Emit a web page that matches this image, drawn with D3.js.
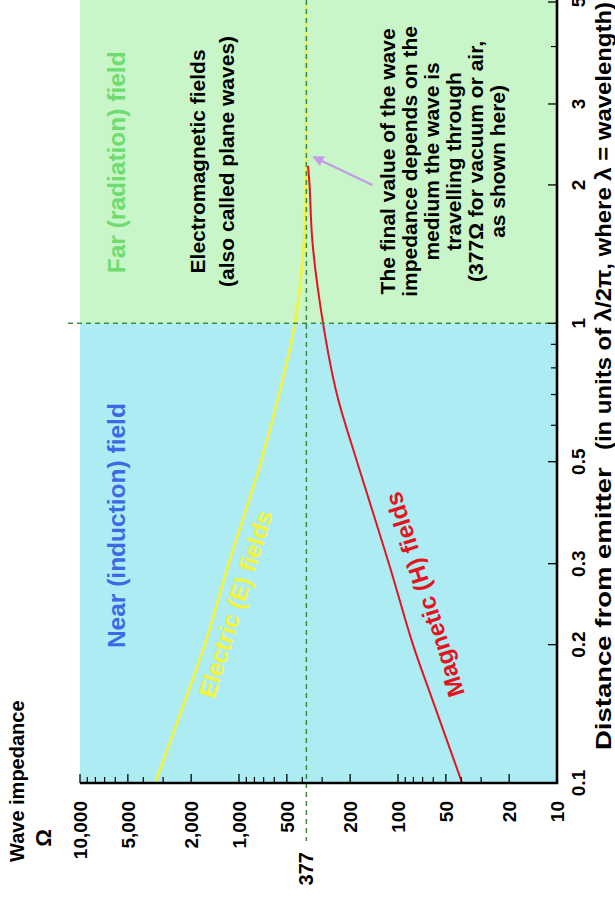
<!DOCTYPE html>
<html>
<head>
<meta charset="utf-8">
<script src="https://cdn.jsdelivr.net/npm/d3@7"></script>
<style>
  html, body { margin: 0; padding: 0; background: #ffffff; }
  svg { display: block; font-family: "Liberation Sans", Arial, Helvetica, sans-serif; font-weight: bold; }
  text { white-space: pre; }
</style>
</head>
<body>
<svg id="chart" width="615" height="899"></svg>
<script>
// Distance from the emitter, in units of λ/2π
const distances = [0.1, 0.15, 0.2, 0.3, 0.5, 0.7, 1, 1.5, 2, 3, 5];
// Wave impedance (Ω) of the electric (E) field
const electricImpedance = [3370, 2200, 1640, 1160, 727, 560, 445, 390, 380, 377, 377];
// Wave impedance (Ω) of the magnetic (H) field
const magneticDistances = [0.1, 0.15, 0.2, 0.3, 0.5, 0.7, 1, 1.5, 2, 2.2];
const magneticImpedance = [39.5, 60, 80.5, 114, 181, 242, 296, 345, 360, 368];

const freeSpaceImpedance = 377;
const fieldBoundary = 1;

const impedanceTicks = [10000, 5000, 2000, 1000, 500, 200, 100, 50, 20, 10];
const impedanceTickLabels = ["10,000", "5,000", "2,000", "1,000", "500", "200", "100", "50", "20", "10"];
const distanceTicks = [0.1, 0.2, 0.3, 0.5, 1, 2, 3, 5];
const distanceTickLabels = ["0.1", "0.2", "0.3", "0.5", "1", "2", "3", "5"];
const distanceMinorTicks = [0.6, 0.7, 0.8, 0.9, 4];

const noteLines = [
  "The final value of the wave",
  "impedance depends on the",
  "medium the wave is",
  "travelling through",
  "(377\u03A9 for vacuum or air,",
  "as shown here)"
];
const emLines = ["Electromagnetic fields", "(also called plane waves)"];

const svg = d3.select("#chart");

// The chart is laid on its side: impedance runs across, distance runs up.
const plot = { left: 80, right: 557, top: 2, bottom: 783 };
const z = d3.scaleLog().domain([10000, 10]).range([plot.left, plot.right]);
const d = d3.scaleLog().domain([0.1, 5]).range([plot.bottom, plot.top]);

const colors = {
  near: "#aeecf4",
  far: "#c8f6c8",
  electric: "#f3f33a",
  magnetic: "#e3141e",
  guide: "#3d8b3d",
  nearText: "#3a6be4",
  farText: "#6fdc6f",
  arrow: "#c49be8"
};

// Near-field and far-field regions
svg.append("rect")
  .attr("x", plot.left).attr("y", d(fieldBoundary))
  .attr("width", plot.right - plot.left).attr("height", plot.bottom - d(fieldBoundary))
  .attr("fill", colors.near);
svg.append("rect")
  .attr("x", plot.left).attr("y", 0)
  .attr("width", plot.right - plot.left).attr("height", d(fieldBoundary))
  .attr("fill", colors.far);

// Impedance curves
const eLine = d3.line()
  .x((v, i) => z(electricImpedance[i]))
  .y((v, i) => d(distances[i]))
  .curve(d3.curveCatmullRom.alpha(0.5));
const hLine = d3.line()
  .x((v, i) => z(magneticImpedance[i]))
  .y((v, i) => d(magneticDistances[i]))
  .curve(d3.curveCatmullRom.alpha(0.5));

svg.append("path").datum(distances)
  .attr("d", eLine).attr("fill", "none")
  .attr("stroke", colors.electric).attr("stroke-width", 2.6);
svg.append("path").datum(magneticDistances)
  .attr("d", hLine).attr("fill", "none")
  .attr("stroke", colors.magnetic).attr("stroke-width", 2);

// Guide lines: free-space impedance and near/far boundary
svg.append("line")
  .attr("x1", z(freeSpaceImpedance)).attr("x2", z(freeSpaceImpedance))
  .attr("y1", 0).attr("y2", plot.bottom + 58)
  .attr("stroke", colors.guide).attr("stroke-width", 1.5)
  .attr("stroke-dasharray", "5,4");
svg.append("line")
  .attr("x1", plot.left - 12).attr("x2", plot.right)
  .attr("y1", d(fieldBoundary)).attr("y2", d(fieldBoundary))
  .attr("stroke", colors.guide).attr("stroke-width", 1.5)
  .attr("stroke-dasharray", "5,4");

// Axes
const axes = svg.append("g").attr("stroke", "#000");
axes.append("line")
  .attr("x1", plot.left).attr("x2", plot.right + 1)
  .attr("y1", plot.bottom).attr("y2", plot.bottom)
  .attr("stroke-width", 2.6);
axes.append("line")
  .attr("x1", plot.right).attr("x2", plot.right)
  .attr("y1", 0).attr("y2", plot.bottom + 1)
  .attr("stroke-width", 2.6);

const impedanceMinor = z.ticks(30).filter(v => !impedanceTicks.includes(v));
axes.selectAll(".zmajor").data(impedanceTicks).join("line")
  .attr("x1", v => z(v)).attr("x2", v => z(v))
  .attr("y1", plot.bottom).attr("y2", plot.bottom - 9)
  .attr("stroke-width", 1.3);
axes.selectAll(".zminor").data(impedanceMinor).join("line")
  .attr("x1", v => z(v)).attr("x2", v => z(v))
  .attr("y1", plot.bottom).attr("y2", plot.bottom - 6)
  .attr("stroke-width", 1.2);
axes.selectAll(".dmajor").data(distanceTicks).join("line")
  .attr("x1", plot.right).attr("x2", plot.right - 9)
  .attr("y1", v => d(v)).attr("y2", v => d(v))
  .attr("stroke-width", 1.3);
axes.selectAll(".dminor").data(distanceMinorTicks).join("line")
  .attr("x1", plot.right).attr("x2", plot.right - 6)
  .attr("y1", v => d(v)).attr("y2", v => d(v))
  .attr("stroke-width", 1.2);

// Sideways text helper
function sideText(x, y, str, opts = {}) {
  const t = svg.append("text")
    .attr("transform", `translate(${x},${y}) rotate(${opts.angle ?? -90})`)
    .attr("text-anchor", opts.anchor || "middle")
    .attr("dy", opts.dy ?? "0.35em")
    .attr("font-size", opts.size || 19)
    .attr("fill", opts.fill || "#000")
    .text(str);
  if (opts.length) t.attr("textLength", opts.length).attr("lengthAdjust", "spacingAndGlyphs");
  return t;
}

// Tick labels
impedanceTicks.forEach((v, i) => sideText(z(v), plot.bottom + 18, impedanceTickLabels[i], { anchor: "end" }));
sideText(z(freeSpaceImpedance), plot.bottom + 69, String(freeSpaceImpedance), { anchor: "end", size: 20 });
distanceTicks.forEach((v, i) => sideText(plot.right + 21, d(v), distanceTickLabels[i]));

// Distance axis title, in two runs
sideText(603, plot.bottom - 33, "Distance from emitter  ", { anchor: "start", size: 21.5, length: 298 });
sideText(603, plot.bottom - 333, "(in units of \u03BB/2\u03C0, where \u03BB = wavelength)",
  { anchor: "start", size: 21.5, length: plot.bottom - 335 });

// Impedance axis title
sideText(17, plot.bottom + 79, "Wave impedance", { anchor: "start", size: 20 });
sideText(43, plot.bottom + 55, "\u03A9", { size: 22 });

// Region names
sideText(116, d(2.24), "Far (radiation) field", { size: 24.5, fill: colors.farText });
sideText(116, d(0.363), "Near (induction) field", { size: 24.5, fill: colors.nearText });

// Curve names, set along their curves
const iE1 = distances.indexOf(0.15), iE2 = distances.indexOf(0.5);
const angleE = Math.atan2(d(0.5) - d(0.15), z(electricImpedance[iE2]) - z(electricImpedance[iE1])) * 180 / Math.PI;
sideText(z(1050), d(0.245), "Electric (E) fields", { size: 24, fill: colors.electric, angle: angleE });

const iH1 = magneticDistances.indexOf(0.15), iH2 = magneticDistances.indexOf(0.5);
const angleH = Math.atan2(d(0.5) - d(0.15), z(magneticImpedance[iH2]) - z(magneticImpedance[iH1])) * 180 / Math.PI;
sideText(z(68), d(0.257), "Magnetic (H) fields", { size: 24, fill: colors.magnetic, angle: angleH });

// Far-field notes
emLines.forEach((s, i) => sideText(198 + i * 29, d(2.25), s, { size: 21 }));
noteLines.forEach((s, i) => sideText(388 + i * 22, d(2.25), s, { size: 21 }));

// Arrow pointing at the final impedance value
svg.append("defs").append("marker")
  .attr("id", "arrowhead")
  .attr("viewBox", "0 0 10 10")
  .attr("refX", 9).attr("refY", 5)
  .attr("markerWidth", 5).attr("markerHeight", 5)
  .attr("orient", "auto")
  .append("path").attr("d", "M0,0 L10,5 L0,10 Z").attr("fill", colors.arrow);
svg.append("line")
  .attr("x1", z(145)).attr("y1", d(2.0))
  .attr("x2", z(340)).attr("y2", d(2.3))
  .attr("stroke", colors.arrow).attr("stroke-width", 2.2)
  .attr("marker-end", "url(#arrowhead)");
</script>
</body>
</html>
